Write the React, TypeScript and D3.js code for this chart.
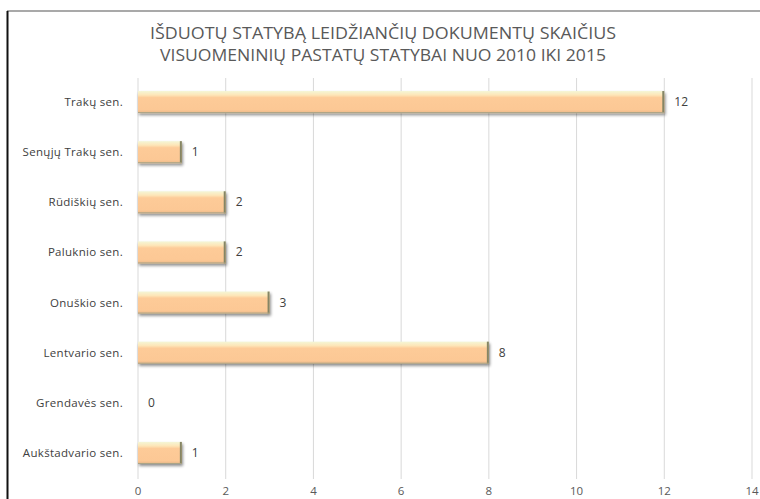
import React from "react";
import * as d3 from "d3";

const titleLines = [
  "IŠDUOTŲ STATYBĄ LEIDŽIANČIŲ DOKUMENTŲ SKAIČIUS",
  "VISUOMENINIŲ PASTATŲ STATYBAI NUO 2010 IKI 2015",
];
const categories = [
  "Trakų sen.",
  "Senųjų Trakų sen.",
  "Rūdiškių sen.",
  "Paluknio sen.",
  "Onuškio sen.",
  "Lentvario sen.",
  "Grendavės sen.",
  "Aukštadvario sen.",
];
const values = [12, 1, 2, 2, 3, 8, 0, 1];
const ticks = [0, 2, 4, 6, 8, 10, 12, 14];

export default function App() {
  const W = 760;
  const H = 499;
  const x = d3.scaleLinear().domain([0, 14]).range([138, 752]);
  const y = d3.scaleBand<string>().domain(categories).range([77, 478]).paddingInner(0.56).paddingOuter(0.28);
  const font = "'Open Sans', 'DejaVu Sans', sans-serif";
  return (
    <svg width={W} height={H} style={{ position: "absolute", left: 0, top: 0, background: "#fff" }}>
      <defs>
        <linearGradient id="barg" x1="0" y1="0" x2="0" y2="1">
          <stop offset="0" stopColor="#f4f6d6" />
          <stop offset="0.18" stopColor="#fde6b8" />
          <stop offset="0.3" stopColor="#fdcb98" />
          <stop offset="0.85" stopColor="#fcc895" />
          <stop offset="1" stopColor="#e9b888" />
        </linearGradient>
        <filter id="sh" x="-5%" y="-30%" width="115%" height="180%">
          <feGaussianBlur in="SourceAlpha" stdDeviation="1.5" />
          <feOffset dx="1" dy="2" result="b" />
          <feComponentTransfer>
            <feFuncA type="linear" slope="0.45" />
          </feComponentTransfer>
          <feMerge>
            <feMergeNode />
            <feMergeNode in="SourceGraphic" />
          </feMerge>
        </filter>
      </defs>
      <line x1={7} y1={11} x2={760} y2={11} stroke="#8c8c8c" strokeWidth={1.5} />
      <line x1={7.5} y1={11} x2={7.5} y2={499} stroke="#111" strokeWidth={2} />
      {titleLines.map((t, i) => (
        <text key={i} x={383} y={39 + i * 22} textAnchor="middle" fontFamily={font} fontSize={15.5}
          fill="#595959" textLength={i === 0 ? 466 : 446} lengthAdjust="spacingAndGlyphs">{t}</text>
      ))}
      {ticks.map((t) => (
        <g key={t}>
          <line x1={x(t)} x2={x(t)} y1={78} y2={479} stroke="#d9d9d9" strokeWidth={1} />
          <text x={x(t)} y={495} textAnchor="middle" fontFamily={font} fontSize={11.5} fill="#595959">{t}</text>
        </g>
      ))}
      {categories.map((c, i) => {
        const by = y(c)!;
        const bh = y.bandwidth();
        const v = values[i];
        const w = x(v) - x(0);
        return (
          <g key={c}>
            <text x={123} y={by + bh / 2 + 4} textAnchor="end" fontFamily={font} fontSize={11.5}
              letterSpacing={0.3} fill="#404040">{c}</text>
            {v > 0 && (
              <g filter="url(#sh)">
                <rect x={x(0)} y={by} width={w} height={bh} fill="url(#barg)" />
                <rect x={x(v) - 2} y={by} width={2} height={bh} fill="#858565" />
                <rect x={x(0)} y={by + bh - 1} width={w} height={1} fill="#a9a487" />
              </g>
            )}
            <text x={x(v) + 10} y={by + bh / 2 + 4} fontFamily={font} fontSize={12} fill="#404040">{v}</text>
          </g>
        );
      })}
    </svg>
  );
}
